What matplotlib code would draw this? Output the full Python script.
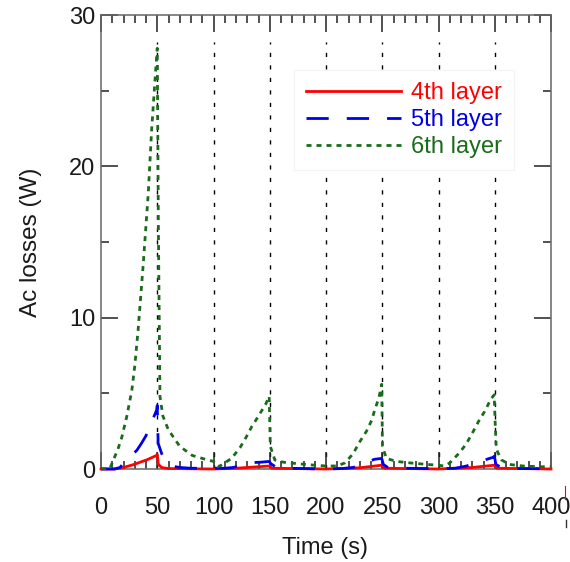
import matplotlib
matplotlib.use("Agg")
import matplotlib.pyplot as plt
from matplotlib.lines import Line2D
from matplotlib.ticker import MultipleLocator

plt.rcParams['font.family'] = ['Liberation Sans', 'DejaVu Sans']

# 6th layer AC losses (W) versus time (s)
t6 = [0, 8, 11, 15, 18.5, 23, 27.4, 30, 33, 37.6, 42, 45, 48, 50, 51, 52.4, 55,
      59.8, 70, 81, 90, 100, 104, 107, 116, 123.5, 129, 134, 140, 146.5, 149.5,
      150.5, 154.5, 162, 175, 190, 200, 210, 216.7, 224, 230, 236, 240.5, 243.3,
      247, 249.5, 250.2, 253.7, 262.6, 275, 290, 300, 305, 310, 319, 325, 331, 336,
      341, 346.4, 349.5, 350.5, 351.4, 356, 363, 375, 390, 400]
loss6 = [0, 0.05, 0.6, 1.3, 2.1, 3.5, 5.2, 6.8, 9.2, 13.6, 18.2, 22.4, 25.7, 27.8,
         16.0, 4.8, 3.5, 2.6, 1.5, 0.9, 0.7, 0.5, 0.15, 0.26, 0.7, 1.4, 2.1, 2.8, 3.5,
         4.3, 4.8, 1.5, 0.6, 0.45, 0.35, 0.25, 0.2, 0.2, 0.4, 1.0, 1.8, 2.5, 3.2,
         3.9, 4.7, 5.6, 1.5, 0.7, 0.5, 0.4, 0.3, 0.25, 0.2, 0.4, 1.1, 1.7, 2.5, 3.2,
         3.8, 4.6, 4.9, 2.8, 1.3, 0.6, 0.3, 0.2, 0.15, 0.15]

# 5th layer
t5 = [0, 12, 17, 20, 26, 32, 36, 40, 45, 49.5, 50, 50.8, 54, 58, 63, 70, 80, 100,
      110, 117.5, 126.4, 134, 142, 149.5, 151, 155, 165, 200, 215, 224, 233, 243,
      249.5, 251, 255, 270, 300, 315, 325, 333.6, 348.4, 349.7, 351, 356, 370, 400]
loss5 = [0, 0, 0.1, 0.4, 0.8, 1.25, 1.7, 2.2, 3.1, 3.9, 4.2, 1.7, 1.0, 0.5, 0.2,
         0.1, 0.05, 0.05, 0.05, 0.1, 0.27, 0.42, 0.45, 0.5, 0.35, 0.15, 0.05, 0,
         0.03, 0.1, 0.33, 0.64, 0.7, 0.3, 0.1, 0.05, 0.02, 0.05, 0.2, 0.42, 0.77,
         0.85, 0.3, 0.1, 0.03, 0.02]

# 4th layer
t4 = [0, 12, 20, 28, 40.6, 49.5, 50, 51, 54, 60, 100, 120, 140, 150, 152, 200,
      230, 249.5, 252, 300, 330, 349.5, 352, 400]
loss4 = [0, 0, 0.1, 0.27, 0.6, 0.9, 0.95, 0.3, 0.1, 0.03, 0, 0.05, 0.15, 0.2,
         0.05, 0, 0.08, 0.25, 0.05, 0, 0.1, 0.25, 0.05, 0]

cycle_marks = [50, 100, 150, 200, 250, 300, 350]
x_ticks = [0, 50, 100, 150, 200, 250, 300, 350, 400]
y_ticks = [0, 10, 20, 30]

red = '#ff0000'
blue = '#0000e6'
green = '#1a6b1a'
spine_c = '#666666'

fig = plt.figure(figsize=(5.70, 5.62), dpi=100)
ax = fig.add_axes([101 / 570, 1 - 469 / 562, 450 / 570, 454 / 562])

for xm in cycle_marks:
    ax.axvline(xm, ymin=0, ymax=0.94, color='black', lw=1.0,
               linestyle=(0, (3, 6)), zorder=1)

ax.plot(t4, loss4, color=red, lw=2.0, label='4th layer', clip_on=False, zorder=3)
ax.plot(t5, loss5, color=blue, lw=2.0, linestyle=(0, (8, 6.5)),
        label='5th layer', clip_on=False, zorder=3)
ax.plot(t6, loss6, color=green, lw=2.0, linestyle=(0, (1.8, 1.8)),
        label='6th layer', clip_on=False, zorder=3)

ax.set_xlim(0, 400)
ax.set_ylim(0, 30)
ax.set_xticks(x_ticks)
ax.set_yticks(y_ticks)
ax.xaxis.set_minor_locator(MultipleLocator(10))
ax.yaxis.set_minor_locator(MultipleLocator(5))

ax.tick_params(which='both', direction='in', top=True, right=True,
               color='#222222', width=1.1, labelcolor='#1a1a1a', labelsize=17)
ax.tick_params(which='major', length=12)
ax.tick_params(which='minor', length=6)
ax.tick_params(axis='x', which='major', pad=20)
ax.tick_params(axis='y', which='major', pad=4)

for sp in ax.spines.values():
    sp.set_color(spine_c)
    sp.set_linewidth(1.1)

ax.set_xlabel('Time (s)', fontsize=17, color='#1a1a1a')
ax.set_ylabel('Ac losses (W)', fontsize=17.5, color='#1a1a1a')
ax.xaxis.set_label_coords(0.498, -0.150)
ax.yaxis.set_label_coords(-0.131, 0.5)

leg = ax.legend(loc='upper right', bbox_to_anchor=(514 / 570, 1 - 70 / 562),
                bbox_transform=fig.transFigure, fontsize=17, handlelength=4.05,
                handletextpad=0.42, labelspacing=0.22, borderpad=0.5,
                borderaxespad=0.0, fancybox=False, framealpha=1.0,
                edgecolor='#f4f4f4')
leg.get_frame().set_linewidth(0.8)
for txt, c in zip(leg.get_texts(), [red, blue, green]):
    txt.set_color(c)

# small marks at the right edge
fig.add_artist(Line2D([565 / 570, 565 / 570], [1 - 486 / 562, 1 - 499 / 562],
                      color=red, lw=0.8))
fig.add_artist(Line2D([566 / 570, 566 / 570], [1 - 520 / 562, 1 - 527 / 562],
                      color='#333333', lw=1.0))

fig.savefig('out.png', dpi=100)
